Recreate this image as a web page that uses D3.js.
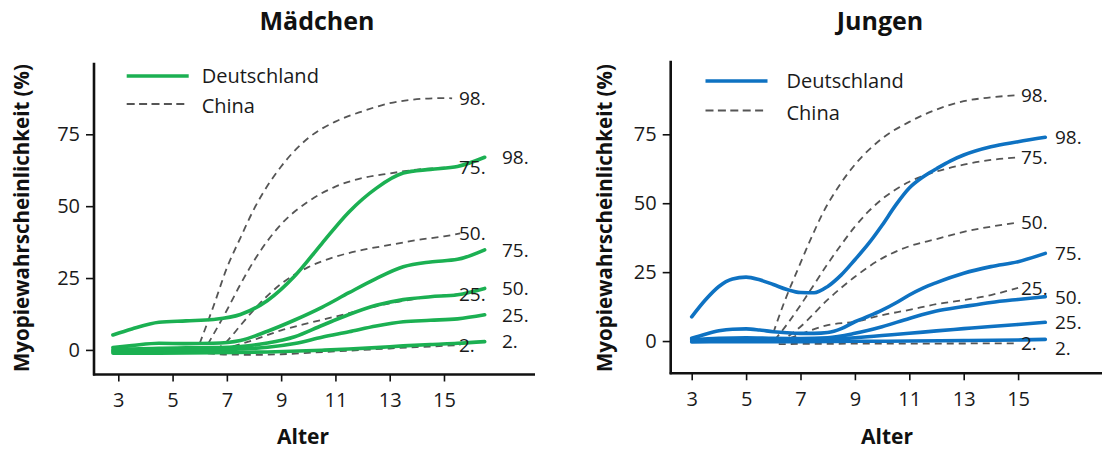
<!DOCTYPE html>
<html>
<head>
<meta charset="utf-8">
<script src="https://cdn.jsdelivr.net/npm/d3@7"></script>
<style>
  html, body { margin: 0; padding: 0; background: #fff; }
  svg { display: block; font-family: "Open Sans", "Noto Sans", sans-serif; }
</style>
</head>
<body>
<svg id="chart" width="1102" height="449"></svg>
<script>
// Percentile labels, top to bottom
const percentileLabels = ["98.", "75.", "50.", "25.", "2."];
const xTicks = [3, 5, 7, 9, 11, 13, 15];
const yTicks = [0, 25, 50, 75];
const legendLabels = ["Deutschland", "China"];
const panelTitles = ["Mädchen", "Jungen"];

// Mädchen, Deutschland: [Alter, Myopiewahrscheinlichkeit %]
const girlsDE_p98 = [[2.8,5.2],[3.5,7.3],[4.5,9.6],[5.5,10.1],[6.5,10.6],[7.5,12.3],[8.5,17.2],[9.5,25.7],[10.5,37],[11.5,48],[12.5,56.2],[13.5,61.5],[14.5,62.8],[15.5,63.8],[16.5,67]];
const girlsDE_p75 = [[2.8,0.8],[3.5,1.5],[4.5,2.3],[5.5,2.2],[6.5,2.3],[7.5,3.3],[8.5,6.5],[9.5,10.4],[10.5,14.8],[11.5,19.9],[12.5,24.8],[13.5,28.9],[14.5,30.6],[15.5,31.5],[16.5,34.8]];
const girlsDE_p50 = [[2.8,0],[3.5,0.3],[4.5,0.6],[5.5,0.7],[6.5,0.8],[7.5,1.2],[8.5,2.4],[9.5,4.6],[10.5,8.5],[11.5,12.3],[12.5,15.5],[13.5,17.5],[14.5,18.5],[15.5,19.2],[16.5,21.4]];
const girlsDE_p25 = [[2.8,-0.5],[3.5,-0.4],[4.5,-0.3],[5.5,-0.2],[6.5,0],[7.5,0.3],[8.5,0.9],[9.5,2.2],[10.5,4.4],[11.5,6.3],[12.5,8.3],[13.5,9.8],[14.5,10.3],[15.5,10.8],[16.5,12.2]];
const girlsDE_p2  = [[2.8,-1.1],[4.5,-1.1],[6.5,-1],[8.5,-0.7],[10.5,-0.1],[11.5,0.3],[12.5,0.8],[13.5,1.4],[14.5,1.9],[15.5,2.3],[16.5,2.9]];

// Mädchen, China
const girlsCN_p98 = [[6.0,2.3],[6.5,15],[7,28.5],[7.5,39],[8,49],[9,63.8],[10,73.7],[11,79.4],[12,83],[13,85.8],[14,87.2],[15,87.6],[15.3,87.5]];
const girlsCN_p75 = [[6.3,2],[7,13.8],[7.5,22.8],[8,31],[9,43.7],[10,51.6],[11,56.8],[12,59.8],[13,61.4],[14,62.7],[15,63.4],[15.5,63.6]];
const girlsCN_p50 = [[6.6,0],[7,3],[7.5,8.5],[8,14],[9,23],[10,28.8],[11,32.4],[12,34.8],[13,36.5],[14,38.2],[15,39.5],[15.6,40.5]];
const girlsCN_p25 = [[6.8,0],[7.5,2],[8,3.5],[9,6.8],[10,9.3],[11,11.6],[12,14],[13,16.2],[14,17.8],[15,19],[15.5,19.3]];
const girlsCN_p2  = [[6.3,-1.2],[7,-1.6],[8,-1.7],[9,-1.5],[10,-1],[11,-0.5],[12,0],[13,0.5],[14,1],[15,1.4],[15.6,1.7]];

// Jungen, Deutschland
const boysDE_p98 = [[3,8.8],[3.5,14.9],[4,19.8],[4.5,22.5],[5,23.2],[5.5,22.2],[6,20.5],[6.5,18.7],[7,17.6],[7.5,17.5],[8,19.8],[8.5,24],[9,29.5],[9.5,35.3],[10,42],[10.5,49.3],[11,55.5],[11.5,59.5],[12,62.5],[12.5,65.3],[13,67.5],[14,70.5],[15,72.3],[16,73.9]];
const boysDE_p75 = [[3,1],[3.5,2.5],[4,3.7],[4.5,4.3],[5,4.4],[5.5,4],[6,3.4],[6.5,3],[7,2.8],[7.5,2.8],[8,3.1],[8.5,4.5],[9,7],[9.5,9],[10,11.2],[10.5,13.8],[11,16.7],[11.5,19.2],[12,21.2],[13,24.6],[14,27],[15,28.8],[16,31.8]];
const boysDE_p50 = [[3,0.5],[4,1],[5,1.2],[6,1],[7,0.9],[8,1.2],[9,2.8],[10,5.2],[11,8.2],[12,10.9],[13,12.5],[14,14],[15,15.1],[16,16.1]];
const boysDE_p25 = [[3,0.1],[5,0.4],[7,0.4],[8,0.5],[9,1.2],[10,2],[11,2.8],[12,3.7],[13,4.5],[14,5.3],[15,6],[16,6.8]];
const boysDE_p2  = [[3,-0.3],[5,-0.2],[7,-0.2],[9,-0.1],[11,0],[13,0.2],[15,0.4],[16,0.6]];

// Jungen, China
const boysCN_p98 = [[6.0,3],[6.4,14],[6.9,26],[7.4,37.5],[7.8,46],[8.5,57.5],[9,64],[10,73.5],[11,79.5],[12,84],[13,87],[14,88.4],[15,89.2]];
const boysCN_p75 = [[6.05,0.4],[6.5,6],[7,13],[7.5,20.5],[8,28],[8.5,35],[9,41.5],[9.5,47],[10,51.5],[10.5,55],[11,57.8],[12,61.5],[13,64],[14,65.7],[15,66.6]];
const boysCN_p50 = [[6.2,-0.7],[7,5.2],[8,15],[9,23.3],[10,30],[11,34.4],[12,37],[13,39.6],[14,41.5],[15,43]];
const boysCN_p25 = [[6.6,1],[7,2.5],[8,5.8],[9,7],[10,9.4],[11,11.3],[12,13.4],[13,14.9],[14,16.7],[15,19.3]];
const boysCN_p2  = [[6.2,-1.1],[8,-1],[10,-0.9],[12,-0.9],[15,-0.8]];

const svg = d3.select("#chart");

// Place end labels at their curve's last value, nudging lower ones down so they never collide
function labelPositions(series, y, minGap) {
  const ys = series.map(s => y(s[s.length - 1][1]));
  for (let i = 1; i < ys.length; i++) {
    if (ys[i] < ys[i - 1] + minGap) ys[i] = ys[i - 1] + minGap;
  }
  return ys;
}

function drawPanel(p) {
  const g = svg.append("g");
  const x = d3.scaleLinear().domain(p.xDomain).range([p.left, p.right]);
  const y = d3.scaleLinear().domain(p.yDomain).range([p.bottom, p.top]);
  const line = d3.line().x(d => x(d[0])).y(d => y(d[1])).curve(d3.curveMonotoneX);

  // China percentiles (dashed)
  p.cn.forEach(s => {
    g.append("path").datum(s).attr("d", line)
      .attr("fill", "none").attr("stroke", "#555").attr("stroke-width", 1.8)
      .attr("stroke-dasharray", "7,5");
  });
  // Deutschland percentiles (solid)
  p.de.forEach(s => {
    g.append("path").datum(s).attr("d", line)
      .attr("fill", "none").attr("stroke", p.color).attr("stroke-width", 3.6)
      .attr("stroke-linecap", "round").attr("stroke-linejoin", "round");
  });

  // Percentile labels at the curve ends
  const labelFont = "19px";
  const cnY = labelPositions(p.cn, y, 25.5);
  const deY = labelPositions(p.de, y, 25.5);
  p.cn.forEach((s, i) => {
    g.append("text").attr("x", x(p.cnLabelAge)).attr("y", cnY[i])
      .attr("dy", "0.36em").attr("font-size", labelFont).attr("fill", "#1a1a1a")
      .text(percentileLabels[i]);
  });
  p.de.forEach((s, i) => {
    g.append("text").attr("x", x(p.deLabelAge)).attr("y", deY[i])
      .attr("dy", "0.36em").attr("font-size", labelFont).attr("fill", "#1a1a1a")
      .text(percentileLabels[i]);
  });

  // Axes
  const yAxis = d3.axisLeft(y).tickValues(yTicks).tickSize(8).tickPadding(6);
  const yg = g.append("g").attr("transform", `translate(${p.left},0)`).call(yAxis);
  const xAxis = d3.axisBottom(x).tickValues(xTicks).tickSize(7).tickPadding(p.xPad);
  const xg = g.append("g").attr("transform", `translate(0,${p.bottom})`).call(xAxis);
  [yg, xg].forEach(a => {
    a.select(".domain").remove();
    a.selectAll(".tick line").attr("stroke", "#111").attr("stroke-width", 1.6);
    a.selectAll(".tick text").attr("font-size", "20px").attr("fill", "#1a1a1a")
      .attr("font-family", "Open Sans, Noto Sans, sans-serif");
  });
  g.append("line").attr("x1", p.left).attr("x2", p.left).attr("y1", p.top).attr("y2", p.bottom + 1)
    .attr("stroke", "#111").attr("stroke-width", 2.6);
  g.append("line").attr("x1", p.left - 1).attr("x2", p.right).attr("y1", p.bottom).attr("y2", p.bottom)
    .attr("stroke", "#111").attr("stroke-width", 2.6);

  // Titles
  g.append("text").attr("x", p.titleX).attr("y", 29.5).attr("text-anchor", "middle")
    .attr("font-size", "25px").attr("font-weight", 700).attr("fill", "#111").text(p.title);
  g.append("text").attr("x", p.xTitleX).attr("y", 444).attr("text-anchor", "middle")
    .attr("font-size", "21px").attr("font-weight", 700).attr("fill", "#111").text("Alter");
  g.append("text")
    .attr("transform", `translate(${p.yTitleX},218) rotate(-90)`)
    .attr("text-anchor", "middle").attr("dy", "0.35em")
    .attr("font-size", "20.5px").attr("font-weight", 700).attr("fill", "#111")
    .text("Myopiewahrscheinlichkeit (%)");

  // Legend
  const lg = g.append("g");
  lg.append("line").attr("x1", p.legX).attr("x2", p.legX + 62).attr("y1", p.legY).attr("y2", p.legY)
    .attr("stroke", p.color).attr("stroke-width", 3.6);
  lg.append("line").attr("x1", p.legX).attr("x2", p.legX + 62).attr("y1", p.legY + p.legGap).attr("y2", p.legY + p.legGap)
    .attr("stroke", "#555").attr("stroke-width", 1.8).attr("stroke-dasharray", "8,4.4");
  legendLabels.forEach((t, i) => {
    lg.append("text").attr("x", p.legX + p.legTextOff).attr("y", p.legY + i * p.legGap + (i ? 2 : 0))
      .attr("dy", "0.36em").attr("font-size", "20px").attr("fill", "#1a1a1a").text(t);
  });
}

// Mädchen
drawPanel({
  title: panelTitles[0], titleX: 317, xTitleX: 303, yTitleX: 22,
  color: "#1bb052",
  left: 94, right: 535, top: 62.7, bottom: 374.5,
  xDomain: [3 - (118.3 - 94) / 27.14, 3 + (535 - 118.3) / 27.14],
  yDomain: [-8.55, 99.9],
  xPad: 11,
  de: [girlsDE_p98, girlsDE_p75, girlsDE_p50, girlsDE_p25, girlsDE_p2],
  cn: [girlsCN_p98, girlsCN_p75, girlsCN_p50, girlsCN_p25, girlsCN_p2],
  deLabelAge: 3 + (502 - 118.3) / 27.14,
  cnLabelAge: 3 + (459 - 118.3) / 27.14,
  legX: 126.7, legY: 76, legGap: 28, legTextOff: 75
});

// Jungen
drawPanel({
  title: panelTitles[1], titleX: 880, xTitleX: 887, yTitleX: 605,
  color: "#0e72c2",
  left: 670.7, right: 1102, top: 60.7, bottom: 373.3,
  xDomain: [3 - (691.7 - 670.7) / 27.2, 3 + (1102 - 691.7) / 27.2],
  yDomain: [-11.7, 101.7],
  xPad: 12,
  de: [boysDE_p98, boysDE_p75, boysDE_p50, boysDE_p25, boysDE_p2],
  cn: [boysCN_p98, boysCN_p75, boysCN_p50, boysCN_p25, boysCN_p2],
  deLabelAge: 3 + (1055 - 691.7) / 27.2,
  cnLabelAge: 3 + (1021 - 691.7) / 27.2,
  legX: 705.5, legY: 81, legGap: 29.5, legTextOff: 81
});
</script>
</body>
</html>
